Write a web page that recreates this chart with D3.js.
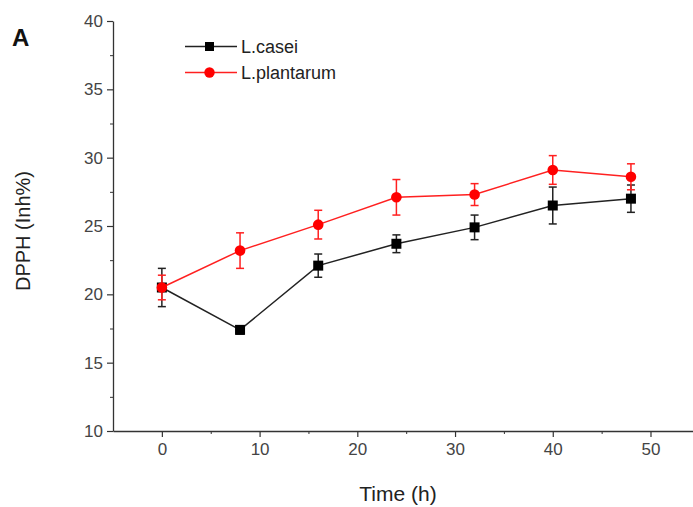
<!DOCTYPE html>
<html>
<head>
<meta charset="utf-8">
<script src="https://cdn.jsdelivr.net/npm/d3@7"></script>
<style>
  body { margin: 0; background: #fff; }
  text { font-family: "Liberation Sans", Arial, sans-serif; }
</style>
</head>
<body>
<div id="chart"></div>
<script>
const width = 693, height = 507

// data
const times = [0, 8, 16, 24, 32, 40, 48]
const caseiMean = [20.5, 17.4, 22.1, 23.7, 24.9, 26.5, 27.0]
const caseiErr = [1.4, 0.3, 0.85, 0.65, 0.9, 1.35, 1.0]
const plantarumMean = [20.5, 23.2, 25.1, 27.1, 27.3, 29.1, 28.6]
const plantarumErr = [0.9, 1.3, 1.05, 1.3, 0.8, 1.05, 0.95]
const xTicks = [0, 10, 20, 30, 40, 50]
const yTicks = [10, 15, 20, 25, 30, 35, 40]

const series = [
  { name: "L.casei", mean: caseiMean, err: caseiErr, color: "#000", line: "#222", shape: "square" },
  { name: "L.plantarum", mean: plantarumMean, err: plantarumErr, color: "#ff0000", line: "#ff2020", shape: "circle" }
]

const margin = { left: 113, top: 21, right: 0, bottom: 76 }

const svg = d3.select("#chart").append("svg")
    .attr("width", width)
    .attr("height", height)

const x = d3.scaleLinear().domain([-5, 54.35]).range([margin.left, width - margin.right])
const y = d3.scaleLinear().domain([10, 40]).range([height - margin.bottom, margin.top])

// minor ticks
svg.append("g")
    .attr("transform", `translate(0,${y(10)})`)
    .call(d3.axisBottom(x).tickValues([5, 15, 25, 35, 45]).tickSize(3).tickFormat(""))
    .call(g => g.select(".domain").remove())
    .selectAll("line").attr("stroke", "#333")
svg.append("g")
    .attr("transform", `translate(${x(-5)},0)`)
    .call(d3.axisLeft(y).tickValues([12.5, 17.5, 22.5, 27.5, 32.5, 37.5]).tickSize(3).tickFormat(""))
    .call(g => g.select(".domain").remove())
    .selectAll("line").attr("stroke", "#333")

const xAxis = svg.append("g")
    .attr("transform", `translate(0,${y(10)})`)
    .call(d3.axisBottom(x).tickValues(xTicks).tickSize(6).tickSizeOuter(0).tickPadding(6))
xAxis.select(".domain").attr("stroke", "#333").attr("stroke-width", 1.3)
xAxis.selectAll("line").attr("stroke", "#333").attr("stroke-width", 1.2)
xAxis.selectAll("text").attr("font-size", 17).attr("fill", "#444")
    .style("font-family", "Liberation Sans, Arial, sans-serif")

const yAxis = svg.append("g")
    .attr("transform", `translate(${x(-5)},0)`)
    .call(d3.axisLeft(y).tickValues(yTicks).tickSize(6).tickSizeOuter(0).tickPadding(4))
yAxis.select(".domain").attr("stroke", "#333").attr("stroke-width", 1.3)
yAxis.selectAll("line").attr("stroke", "#333").attr("stroke-width", 1.2)
yAxis.selectAll("text").attr("font-size", 17).attr("fill", "#444")
    .style("font-family", "Liberation Sans, Arial, sans-serif")

// axis titles
svg.append("text")
    .attr("x", 398).attr("y", 501)
    .attr("text-anchor", "middle")
    .attr("font-size", 21).attr("fill", "#222")
    .text("Time (h)")
svg.append("text")
    .attr("transform", `translate(30,231) rotate(-90)`)
    .attr("text-anchor", "middle")
    .attr("font-size", 20).attr("fill", "#222")
    .text("DPPH (Inh%)")

svg.append("text")
    .attr("x", 12).attr("y", 46)
    .attr("font-size", 24).attr("font-weight", "bold").attr("fill", "#111")
    .text("A")

const line = d3.line().x(d => x(d[0])).y(d => y(d[1]))

series.forEach(s => {
  const pts = times.map((t, i) => [t, s.mean[i], s.err[i]])
  const g = svg.append("g")

  g.append("path")
      .attr("d", line(pts))
      .attr("fill", "none")
      .attr("stroke", s.line)
      .attr("stroke-width", 1.5)

  pts.forEach(p => {
    const cx = x(p[0])
    g.append("line")
        .attr("x1", cx).attr("x2", cx)
        .attr("y1", y(p[1] - p[2])).attr("y2", y(p[1] + p[2]))
        .attr("stroke", s.line).attr("stroke-width", 1.5)
    ;[p[1] - p[2], p[1] + p[2]].forEach(v => {
      g.append("line")
          .attr("x1", cx - 4).attr("x2", cx + 4)
          .attr("y1", y(v)).attr("y2", y(v))
          .attr("stroke", s.line).attr("stroke-width", 1.5)
    })
    if (s.shape === "square") {
      g.append("rect")
          .attr("x", cx - 5).attr("y", y(p[1]) - 5)
          .attr("width", 10).attr("height", 10)
          .attr("fill", s.color)
    } else {
      g.append("circle")
          .attr("cx", cx).attr("cy", y(p[1])).attr("r", 5.3)
          .attr("fill", s.color)
    }
  })
})

// legend
const legend = svg.append("g")
series.forEach((s, i) => {
  const ly = 46.5 + i * 26
  legend.append("line")
      .attr("x1", 185).attr("x2", 237)
      .attr("y1", ly).attr("y2", ly)
      .attr("stroke", s.line).attr("stroke-width", 1.5)
  if (s.shape === "square") {
    legend.append("rect")
        .attr("x", 205).attr("y", ly - 4.5)
        .attr("width", 9).attr("height", 9)
        .attr("fill", s.color)
  } else {
    legend.append("circle")
        .attr("cx", 209.5).attr("cy", ly).attr("r", 5.2)
        .attr("fill", s.color)
  }
  legend.append("text")
      .attr("x", 241).attr("y", ly + 6.5)
      .attr("font-size", 18).attr("fill", "#222")
      .text(s.name)
})
</script>
</body>
</html>
